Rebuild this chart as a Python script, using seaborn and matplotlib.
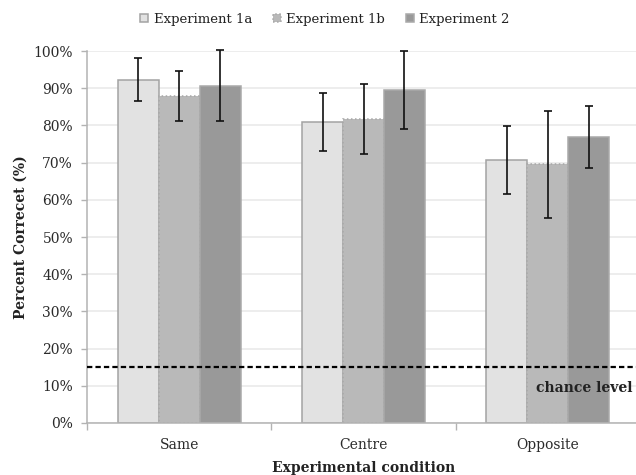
import pandas as pd
import numpy as np
import matplotlib
matplotlib.use("Agg")
import matplotlib.pyplot as plt
import matplotlib.transforms as mtransforms
import seaborn as sns
from matplotlib.ticker import PercentFormatter

# values (percent correct, +/- error)
conditions = ["Same", "Centre", "Opposite"]
experiments = ["Experiment 1a", "Experiment 1b", "Experiment 2"]
exp_1a = [92.3, 80.8, 70.7]
exp_1b = [88.0, 81.8, 69.6]
exp_2 = [90.7, 89.5, 76.9]
err_1a = [5.7, 7.8, 9.1]
err_1b = [6.7, 9.4, 14.4]
err_2 = [9.5, 10.4, 8.4]
chance = 15

df = pd.DataFrame({
    "condition": conditions * 3,
    "experiment": np.repeat(experiments, 3),
    "value": exp_1a + exp_1b + exp_2,
})
errors = [err_1a, err_1b, err_2]

sns.set_style("white")
plt.rcParams["font.family"] = ["DejaVu Serif"]

fig = plt.figure(figsize=(6.36, 4.75), dpi=100)
ax = fig.add_axes([87 / 636, 52 / 475, 553 / 636, 372 / 475])

fills = ["#e2e2e2", "#b9b9b9", "#999999"]
edges = ["#a3a3a3", "#a8a8a8", "#a9a9a9"]
styles = ["-", ":", "-"]

sns.barplot(data=df, x="condition", y="value", hue="experiment",
            palette=fills, width=0.667, gap=0, errorbar=None,
            saturation=1, ax=ax, zorder=2)
if ax.get_legend():
    ax.get_legend().remove()

bar_conts = list(ax.containers)
for cont, ec, ls, err in zip(bar_conts, edges, styles, errors):
    xs = []
    ys = []
    for bar in cont:
        bar.set_edgecolor(ec)
        bar.set_linestyle(ls)
        bar.set_linewidth(1.1)
        xs.append(bar.get_x() + bar.get_width() / 2)
        ys.append(bar.get_height())
    eb = ax.errorbar(xs, ys, yerr=err, fmt="none", ecolor="#111111",
                     elinewidth=1.2, capsize=3.2, capthick=1.2, zorder=4)
    for art in eb.lines[1] + eb.lines[2]:
        art.set_clip_on(False)

ax.axhline(chance, color="black", lw=1.6, ls=(0, (2.4, 1.4)), zorder=5)
trans = mtransforms.blended_transform_factory(fig.transFigure, ax.transData)
ax.text(632 / 636, 9.4, "chance level", transform=trans,
        ha="right", va="center", fontsize=10, fontweight="bold", color="#222222", zorder=6)

ax.set_xlim(-0.5, 2.5)
ax.set_ylim(0, 100)
ax.set_yticks(range(0, 101, 10))
ax.yaxis.set_major_formatter(PercentFormatter(decimals=0))
ax.set_xticks([-0.5, 0.5, 1.5, 2.5], [""] * 4)
ax.set_xticks([0, 1, 2], conditions, minor=True)

ax.set_axisbelow(True)
ax.yaxis.grid(True, color="#e8e8e8", lw=1.1)
ax.xaxis.grid(False)
sns.despine(ax=ax)
for s in ["left", "bottom"]:
    ax.spines[s].set_color("#b3b3b3")
    ax.spines[s].set_linewidth(1.1)

ax.tick_params(axis="y", which="major", left=True, length=4, width=1,
               color="#b3b3b3", labelsize=10, labelcolor="#2a2a2a", pad=6)
ax.tick_params(axis="x", which="major", bottom=True, length=5, width=1,
               color="#b3b3b3")
ax.tick_params(axis="x", which="minor", bottom=True, length=0,
               labelsize=10, labelcolor="#2a2a2a", pad=11)

ax.set_xlabel("Experimental condition", fontsize=10, fontweight="bold", color="#222222")
ax.set_ylabel("Percent Correcet (%)", fontsize=10, fontweight="bold", color="#222222")
ax.xaxis.set_label_coords(0.5, -0.102)
ax.yaxis.set_label_coords(-0.108, 0.5)

handles = [c.patches[0] for c in bar_conts]
fig.legend(handles, experiments, loc="center", bbox_to_anchor=(0.511, 0.96),
           ncol=3, frameon=False, fontsize=9.5, handlelength=0.6,
           handleheight=0.6, handletextpad=0.4, columnspacing=1.6,
           labelcolor="#222222")

fig.savefig("out.png", dpi=100)
